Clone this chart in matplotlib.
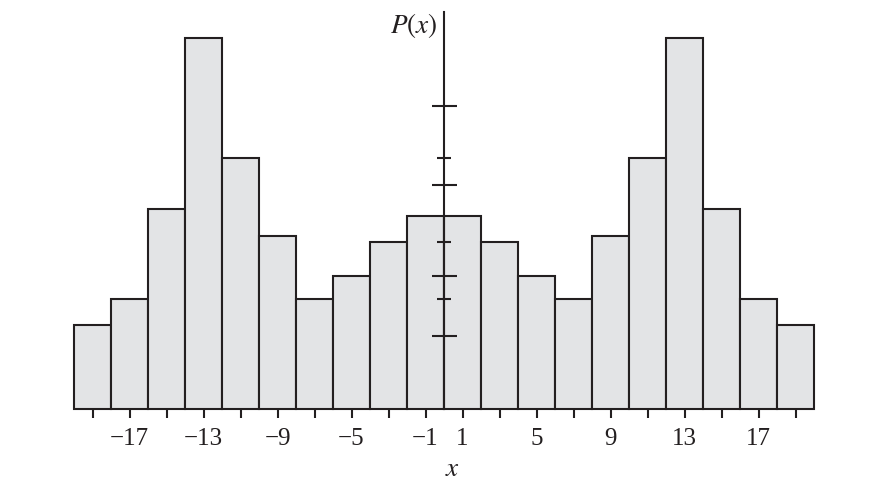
import numpy as np
import matplotlib
matplotlib.use("Agg")
import matplotlib.pyplot as plt

# histogram data (bar centres, bar heights in arbitrary units)
centers = [-19, -17, -15, -13, -11, -9, -7, -5, -3, -1,
           1, 3, 5, 7, 9, 11, 13, 15, 17, 19]
heights = [0.84, 1.10, 2.01, 3.72, 2.52, 1.73, 1.10, 1.33, 1.67, 1.93,
           1.93, 1.67, 1.33, 1.10, 1.73, 2.52, 3.72, 2.01, 1.10, 0.84]

xtick_pos = list(range(-19, 20, 2))
xtick_shown = [-17, -13, -9, -5, -1, 1, 5, 9, 13, 17]
ytick_major = [0.73, 1.33, 2.25, 3.04]
ytick_minor = [1.10, 1.67, 2.52]

plt.rcParams['font.family'] = ['Liberation Serif', 'DejaVu Serif']
plt.rcParams['mathtext.fontset'] = 'stix'

ink = '#231f20'

fig = plt.figure(figsize=(8.69, 4.8), dpi=100)
ax = fig.add_axes([74 / 869, 71 / 480, 740 / 869, 397 / 480])

ax.bar(centers, heights, width=2, color='#e3e4e6', edgecolor=ink,
       linewidth=1.5, clip_on=False, zorder=1)

ax.set_xlim(-20, 20)
ax.set_ylim(0, 3.98)

for s in ['top', 'right', 'bottom']:
    ax.spines[s].set_visible(False)
ax.spines['left'].set_position(('data', 0))
ax.spines['left'].set_color(ink)
ax.spines['left'].set_linewidth(1.5)
ax.spines['left'].set_zorder(3)

# x ticks under the baseline
ax.set_xticks(xtick_pos)
ax.set_xticklabels([("\u2212%d" % -v if v < 0 else str(v)) if v in xtick_shown else ''
                    for v in xtick_pos])
ax.tick_params(axis='x', direction='out', length=6.5, width=1.5, color=ink,
               labelsize=18, pad=7, labelcolor=ink)

# y ticks crossing the axis
ax.set_yticks(ytick_major)
ax.set_yticks(ytick_minor, minor=True)
ax.set_yticklabels([])
ax.tick_params(axis='y', which='major', direction='inout', length=18, width=1.5, color=ink)
ax.tick_params(axis='y', which='minor', direction='inout', length=9.5, width=1.5, color=ink)

fig.text(437 / 869, 1 - 25 / 480, r'$P(x)$', ha='right', va='center',
         fontsize=19.5, color=ink)
fig.text(452 / 869, 1 - 469 / 480, r'$x$', ha='center', va='center',
         fontsize=19.5, color=ink)

fig.savefig("out.png", dpi=100)
